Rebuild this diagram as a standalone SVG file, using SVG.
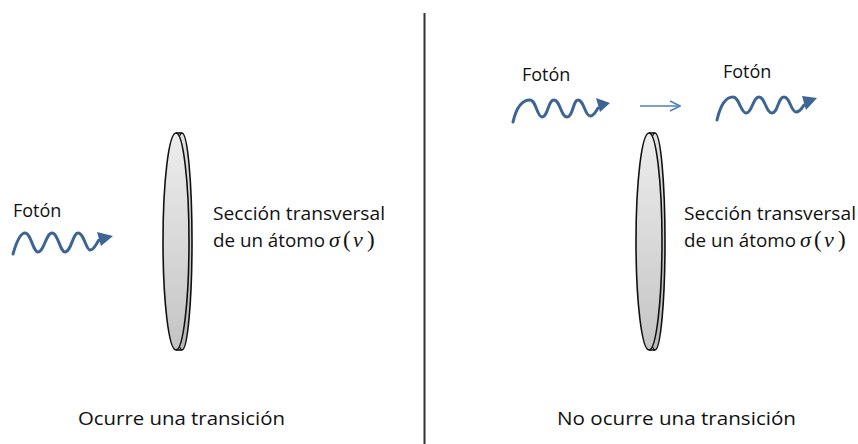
<svg xmlns="http://www.w3.org/2000/svg" width="858" height="444" viewBox="0 0 858 444">
  <style>
    .label { font-family: "Open Sans", "Noto Sans", sans-serif; font-size: 18px; fill: #111; }
    .caption { font-family: "Open Sans", "Noto Sans", sans-serif; font-size: 19px; fill: #111; }
    .math { font-family: "Liberation Serif", "DejaVu Serif", serif; font-style: italic; font-size: 22px; }
    .mathp { font-family: "Liberation Serif", "DejaVu Serif", serif; font-size: 23px; }
    .wave { fill: none; stroke: #3d6594; stroke-width: 3; stroke-linecap: round; stroke-linejoin: round; }
    .head { fill: #3d6594; }
    .disk { stroke: #111; stroke-width: 1.6; }
  </style>
  <defs>
    <linearGradient id="diskFill" x1="0" y1="0" x2="0" y2="1">
      <stop offset="0" stop-color="#ededed"/>
      <stop offset="1" stop-color="#c4c4c4"/>
    </linearGradient>
    <linearGradient id="diskBack" x1="0" y1="0" x2="0" y2="1">
      <stop offset="0" stop-color="#e2e2e2"/>
      <stop offset="1" stop-color="#b8b8b8"/>
    </linearGradient>
    <marker id="openArrow" viewBox="0 0 12 12" refX="11" refY="6" markerWidth="12" markerHeight="12" markerUnits="userSpaceOnUse" orient="auto">
      <path d="M1,1 L11,6 L1,11" fill="none" stroke="#4f81bd" stroke-width="1.6"/>
    </marker>
    <!-- atom cross-section disk: a rear rim and a front face -->
    <g id="disk">
      <ellipse class="disk" cx="182" cy="241.5" rx="10" ry="108.5" fill="url(#diskBack)"/>
      <ellipse class="disk" cx="176" cy="241.5" rx="13" ry="108.5" fill="url(#diskFill)"/>
      <line x1="176" y1="133" x2="182" y2="133" stroke="#111" stroke-width="1.6"/>
      <line x1="176" y1="350" x2="182" y2="350" stroke="#111" stroke-width="1.6"/>
    </g>
  </defs>

  <rect width="858" height="444" fill="#ffffff"/>

  <!-- divider -->
  <line x1="424.5" y1="13" x2="424.5" y2="444" stroke="#333" stroke-width="2"/>

  <!-- left panel -->
  <g id="left-photon">
    <text class="label" x="13" y="217">Fotón</text>
    <path class="wave" d="M13,254 C17,240 21,233 25,233 C31,233 33,252 38,252 C44,252 46,233 52,233 C58,233 60,252 65,252 C71,252 73,233 78,233 C84,233 86,250 90,250 C94,250 96,244 99,240"/>
    <polygon class="head" points="113,236 97,232 101,246"/>
  </g>
  <g id="left-atom">
    <use href="#disk"/>
    <text class="label" x="213" y="220" textLength="172" lengthAdjust="spacingAndGlyphs">Sección transversal</text>
    <text class="label" x="213" y="247"><tspan textLength="112" lengthAdjust="spacingAndGlyphs">de un átomo</tspan><tspan class="math" x="329">σ</tspan><tspan class="mathp" x="343">(</tspan><tspan class="math" x="353">ν</tspan><tspan class="mathp" x="367">)</tspan></text>
  </g>
  <text class="caption" x="78" y="425" textLength="207" lengthAdjust="spacingAndGlyphs">Ocurre una transición</text>

  <!-- right panel -->
  <g id="right-photon-in">
    <text class="label" x="522" y="81">Fotón</text>
    <path class="wave" d="M513,122 C516,109 521,100 530,100 C536,100 537,117 542,117 C548,117 548,100 554,100 C560,100 561,117 567,117 C573,117 573,100 578,100 C584,100 585,116 590,116 C594,116 596,111 598,108"/>
    <polygon class="head" points="610,103 596,98 600,112"/>
  </g>
  <g id="connectors">
    <line x1="640" y1="106" x2="680" y2="106" stroke="#4f81bd" stroke-width="1.6" marker-end="url(#openArrow)"/>
  </g>
  <g id="right-photon-out">
    <text class="label" x="723" y="78">Fotón</text>
    <path class="wave" d="M717,120 C720,107 725,97 733,97 C739,97 741,113 746,113 C752,113 753,97 759,97 C765,97 766,113 772,113 C778,113 778,97 784,97 C790,97 791,112 796,112 C800,112 802,108 804,105"/>
    <polygon class="head" points="817,98 802,96 806,110"/>
  </g>
  <g id="right-atom">
    <use href="#disk" x="473"/>
    <text class="label" x="684" y="220" textLength="172" lengthAdjust="spacingAndGlyphs">Sección transversal</text>
    <text class="label" x="684" y="247"><tspan textLength="112" lengthAdjust="spacingAndGlyphs">de un átomo</tspan><tspan class="math" x="800">σ</tspan><tspan class="mathp" x="814">(</tspan><tspan class="math" x="824">ν</tspan><tspan class="mathp" x="838">)</tspan></text>
  </g>
  <text class="caption" x="557" y="425" textLength="239" lengthAdjust="spacingAndGlyphs">No ocurre una transición</text>
</svg>
